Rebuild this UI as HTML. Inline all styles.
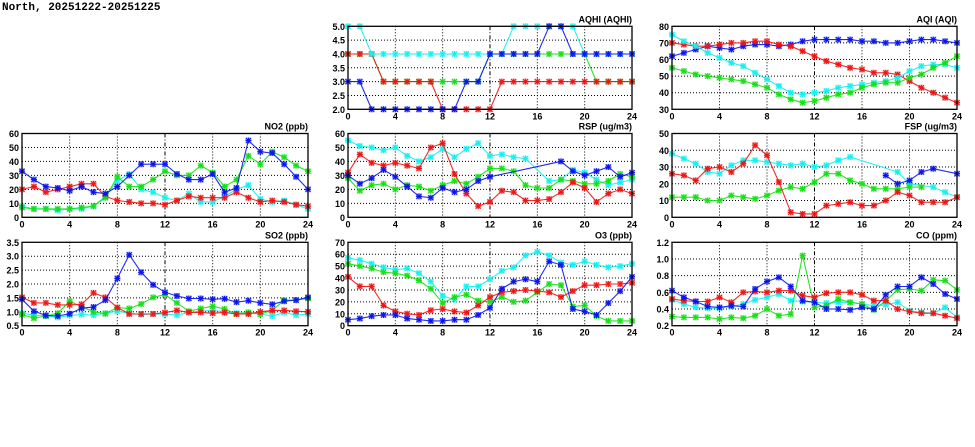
<!DOCTYPE html>
<html><head><meta charset="utf-8"><style>
body{margin:0;background:#fff;width:975px;height:447px;overflow:hidden}
svg{display:block}
text{font-family:"Liberation Sans",sans-serif;font-weight:bold;font-size:9px;fill:#000}
</style></head><body>
<svg id="s" width="975" height="447" xmlns="http://www.w3.org/2000/svg">
<text x="2" y="10" style="font-family:'Liberation Mono',monospace;font-size:11px;font-weight:bold">North, 20251222-20251225</text>
</svg>
<script>
var N=null;
var C={b:"#0a14f0",r:"#f01414",g:"#14e014",c:"#14f0f0"};
var panels=[
{x0:348,x1:632,y0:26.3,y1:109.3,min:2,max:5,step:0.5,dec:1,t:"AQHI (AQHI)",s:[
["g",[4,4,4,3,3,3,3,3,3,3,3,3,4,4,4,4,4,4,4,4,4,3,3,3,3]],
["r",[4,4,4,3,3,3,3,3,2,2,2,2,2,3,3,3,3,3,3,3,3,3,3,3,3]],
["c",[5,5,4,4,4,4,4,4,4,4,4,4,4,4,5,5,5,5,5,5,4,4,4,4,4]],
["b",[3,3,2,2,2,2,2,2,2,2,3,3,4,4,4,4,4,5,5,4,4,4,4,4,4]]]},
{x0:672,x1:957,y0:26.3,y1:109.3,min:30,max:80,step:10,dec:0,t:"AQI (AQI)",s:[
["b",[62,64,66,68,67,66,68,69,69,68,69,71,72,72,72,72,71,71,70,70,71,72,72,71,70]],
["r",[70,69,68,68,69,70,70,71,71,69,68,65,62,59,57,55,54,52,52,51,47,43,40,37,34]],
["c",[75,71,68,64,61,58,56,52,48,44,40,39,40,41,43,44,45,46,47,49,53,56,57,57,55]],
["g",[55,53,51,50,49,48,47,45,43,39,36,34,35,37,39,40,43,45,46,46,49,51,55,58,62]]]},
{x0:22,x1:308,y0:133.5,y1:217.3,min:0,max:60,step:10,dec:0,t:"NO2 (ppb)",s:[
["c",[8,6,6,5,6,6,8,15,26,31,20,18,14,12,17,11,11,15,20,23,13,11,12,9,6]],
["r",[20,22,18,20,22,24,24,15,12,11,10,10,9,12,15,14,14,14,18,14,11,12,11,9,8]],
["g",[7,6,6,6,6,7,8,14,29,22,22,27,33,30,30,37,32,22,27,44,38,47,43,37,33]],
["b",[33,27,22,21,19,22,18,17,22,30,38,38,38,31,27,27,31,18,21,55,47,46,38,29,20]]]},
{x0:348,x1:632,y0:133.5,y1:217.3,min:0,max:60,step:10,dec:0,t:"RSP (ug/m3)",s:[
["c",[55,51,50,48,50,44,40,43,49,43,49,53,44,45,43,42,N,26,27,34,32,27,23,25,27]],
["g",[28,19,23,24,20,23,22,19,23,26,24,29,35,35,33,23,21,21,27,26,24,24,26,31,29]],
["r",[32,45,39,37,39,37,35,50,53,31,17,8,11,19,18,12,12,13,18,25,21,11,17,20,17]],
["b",[30,24,28,34,29,22,15,14,21,18,20,26,29,N,N,N,N,N,40,33,30,33,36,29,32]]]},
{x0:672,x1:957,y0:133.5,y1:217.3,min:0,max:50,step:10,dec:0,t:"FSP (ug/m3)",s:[
["c",[38,35,32,27,26,31,34,34,33,32,31,32,30,31,34,36,N,N,N,27,20,N,18,15,12]],
["g",[12,12,12,10,10,13,12,11,13,16,18,17,21,26,26,22,20,17,17,17,18,18,N,N,N]],
["r",[26,25,22,29,30,27,32,43,37,21,3,2,2,7,8,9,7,7,10,15,13,9,9,9,12]],
["b",[N,N,N,N,N,N,N,N,N,N,N,N,N,N,N,N,N,N,25,20,22,27,29,N,26]]]},
{x0:22,x1:308,y0:242.3,y1:325.7,min:0.5,max:3.5,step:0.5,dec:1,t:"SO2 (ppb)",s:[
["c",[0.95,0.88,0.85,0.8,0.87,0.9,0.88,0.95,1.02,0.95,0.9,0.92,0.92,0.88,0.97,1.02,1.05,1.0,0.95,0.97,0.92,0.85,0.97,0.88,0.92]],
["g",[0.9,0.77,0.85,0.95,1.38,1.18,1.0,0.93,1.15,1.12,1.28,1.52,1.62,1.32,1.02,1.12,1.2,1.1,0.92,0.98,0.92,1.05,1.42,1.42,1.48]],
["r",[1.52,1.32,1.32,1.25,1.25,1.27,1.68,1.52,1.15,0.92,0.92,0.92,0.97,1.05,0.98,0.98,0.95,0.97,0.92,0.92,1.0,1.05,1.05,1.02,1.0]],
["b",[1.45,1.02,0.87,0.85,0.93,1.13,1.17,1.42,2.2,3.05,2.42,1.97,1.7,1.57,1.48,1.48,1.45,1.47,1.35,1.4,1.32,1.27,1.38,1.42,1.52]]]},
{x0:348,x1:632,y0:242.3,y1:325.7,min:0,max:70,step:10,dec:0,t:"O3 (ppb)",s:[
["c",[57,55,52,49,47,48,44,37,25,22,33,33,39,46,49,59,62,59,53,51,54,51,49,50,52]],
["g",[52,50,48,45,44,42,38,31,19,24,26,21,20,24,20,21,28,35,34,16,17,8,4,4,4]],
["r",[41,33,33,17,12,10,9,13,14,12,11,17,24,28,29,30,29,28,24,29,34,34,35,35,36]],
["b",[5,6,8,9,9,6,5,4,4,5,5,9,15,31,37,39,37,54,51,14,12,9,19,29,41]]]},
{x0:672,x1:957,y0:242.3,y1:325.7,min:0.2,max:1.2,step:0.2,dec:1,t:"CO (ppm)",s:[
["c",[.51,.46,.42,.41,.41,.43,.46,.51,.54,.58,.5,.49,.48,.47,.48,.48,.46,.44,.45,.48,.38,.36,.35,.42,.3]],
["g",[.31,.3,.3,.3,.28,.3,.29,.32,.4,.32,.34,1.04,.42,.44,.52,.48,.46,.39,.5,.63,.64,.62,.75,.74,.63]],
["r",[.52,.5,.49,.49,.54,.48,.6,.61,.6,.62,.62,.56,.54,.59,.6,.6,.57,.5,.5,.4,.37,.35,.35,.32,.29]],
["b",[.62,.54,.49,.43,.42,.44,.43,.64,.73,.78,.67,.5,.48,.4,.4,.39,.42,.4,.57,.67,.67,.78,.7,.58,.52]]]}
];
var h="";
panels.forEach(function(p){
 var X=function(i){return p.x0+(p.x1-p.x0)*i/24},Y=function(v){return p.y1-(p.y1-p.y0)*(v-p.min)/(p.max-p.min)};
 for(var i=4;i<24;i+=4){h+='<line x1="'+X(i)+'" x2="'+X(i)+'" y1="'+p.y0+'" y2="'+p.y1+'" stroke="#000" stroke-width="1" stroke-dasharray="'+(i==12?'4,2,1,2':'1,2')+'"/>';}
 for(var v=p.min;v<=p.max+1e-9;v+=p.step){var y=Y(v);
  if(v>p.min+1e-9&&v<p.max-1e-9)h+='<line x1="'+p.x0+'" x2="'+p.x1+'" y1="'+y+'" y2="'+y+'" stroke="#000" stroke-dasharray="1,2"/>';
  h+='<text x="'+(p.x0-3)+'" y="'+(y+3.5)+'" text-anchor="end">'+v.toFixed(p.dec)+'</text>';}
 for(var i=0;i<=24;i+=4)h+='<text x="'+X(i)+'" y="'+(p.y1+10)+'" text-anchor="middle">'+i+'</text>';
 h+='<text x="'+p.x1+'" y="'+(p.y0-4)+'" text-anchor="end">'+p.t+'</text>';
 p.s.forEach(function(s){var col=C[s[0]],d=s[1],path="",pen=false,m="";
  d.forEach(function(v,i){if(v===null){return}var x=X(i),y=Y(v);path+=(pen?"L":"M")+x.toFixed(1)+","+y.toFixed(1);pen=true;
   m+='<rect x="'+(x-3)+'" y="'+(y-3)+'" width="6" height="6" fill="'+col+'" opacity="0.3"/><path d="M'+(x-2.5)+','+(y-2.5)+'L'+(x+2.5)+','+(y+2.5)+'M'+(x-2.5)+','+(y+2.5)+'L'+(x+2.5)+','+(y-2.5)+'M'+x+','+(y-3)+'L'+x+','+(y+3)+'M'+(x-3)+','+y+'L'+(x+3)+','+y+'" stroke="'+col+'" stroke-width="1.1"/>';});
  h+='<path d="'+path+'" fill="none" stroke="'+col+'" stroke-width="1.1" opacity="0.9"/>'+m;});
 h+='<rect x="'+p.x0+'" y="'+p.y0+'" width="'+(p.x1-p.x0)+'" height="'+(p.y1-p.y0)+'" fill="none" stroke="#000" stroke-width="1.3"/>';
});
document.getElementById("s").insertAdjacentHTML("beforeend",h);
</script>
</body></html>
